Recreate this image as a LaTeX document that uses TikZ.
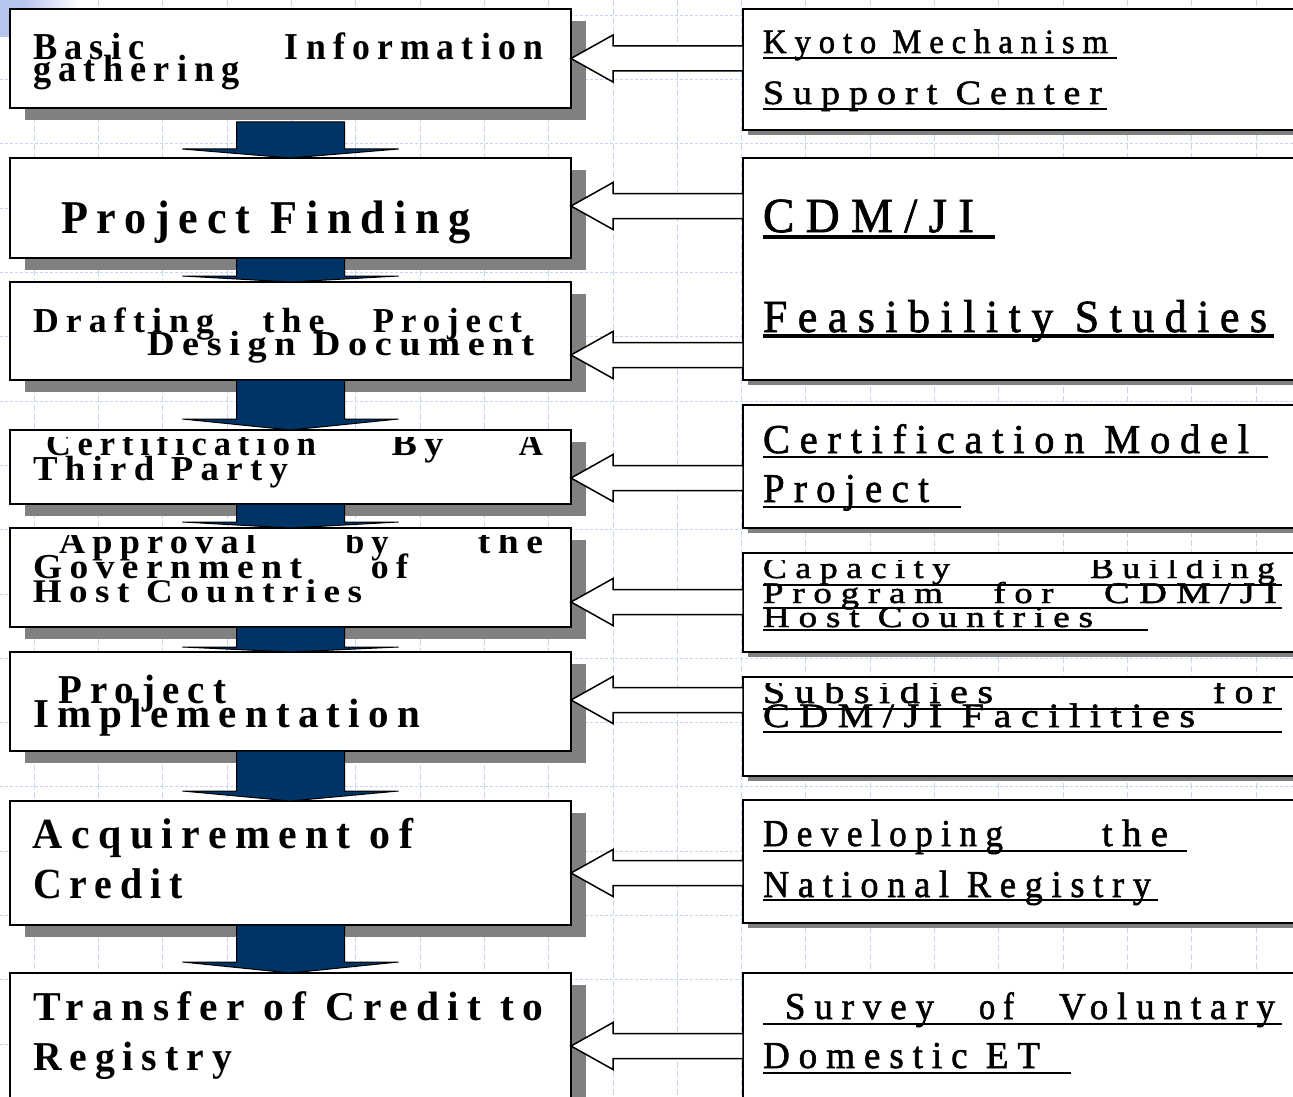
\documentclass[tikz,border=0pt]{standalone}
\usepackage{fontspec}
\usepackage{graphicx}
\usetikzlibrary{calc,shadows}
\newfontfamily\Lfont[LetterSpace=20]{Liberation Serif}
\newfontfamily\Rfont[LetterSpace=24,FakeBold=1.5]{Liberation Serif}
\definecolor{gridc}{RGB}{200,212,240}
\definecolor{navy}{RGB}{0,51,102}
\definecolor{shadowc}{RGB}{128,128,128}
\definecolor{tlblue}{RGB}{184,196,240}
\newcommand\fw[2]{\resizebox{#1pt}{\height}{#2}}
\tikzset{
  txt/.style={anchor=base west,inner sep=0pt,outer sep=0pt},
  lbox/.style={draw=black,line width=1.5pt,fill=white,anchor=north west,inner sep=0pt,outer sep=0pt,
     minimum width=561pt,general shadow={fill=shadowc,shadow xshift=15pt,shadow yshift=-12pt}},
  rbox/.style={draw=black,line width=1.5pt,fill=white,anchor=north west,inner sep=0pt,outer sep=0pt,
     minimum width=560pt,general shadow={fill=shadowc,shadow xshift=5pt,shadow yshift=-5pt}},
  downarr/.style={fill=navy,draw=black,line width=1pt,line join=miter},
  hollow/.style={fill=white,draw=black,line width=1.5pt,line join=miter},
  uline/.style={draw=black,line width=2.8pt},
  gridh/.style={draw=gridc,line width=1pt,dash pattern=on 3pt off 2pt},
  gridv/.style={draw=gridc,line width=1pt,dash pattern=on 6pt off 3pt},
}
\newcommand\LT[5]{\node[txt,font=\Lfont\bfseries\fontsize{#4pt}{#4pt}\selectfont] (#1) at (#2,#3) {#5};}
\newcommand\RT[5]{\node[txt,font=\Rfont\fontsize{#4pt}{#4pt}\selectfont] (#1) at (#2,#3) {#5};}
% down arrow: from node, to node, start offset, head height
\newcommand\darrow[4]{\filldraw[downarr] let \p1=(#1.south), \p2=(#2.north) in
  (\x1-54pt,\y1-#3pt) -- (\x1-54pt,\y2+#4pt) -- (\x1-108pt,\y2+#4pt) -- (\x1,\y2)
  -- (\x1+108pt,\y2+#4pt) -- (\x1+54pt,\y2+#4pt) -- (\x1+54pt,\y1-#3pt) -- cycle;}
% hollow arrow: from right node to left node at height y
\newcommand\harrow[3]{\filldraw[hollow] let \p1=(#2.east), \p2=(#1.west), \p3=(0,#3) in
  (\x1,\y3) -- (\x1+42pt,\y3+23.5pt) -- (\x1+42pt,\y3+12.5pt) -- (\x2,\y3+12.5pt)
  -- (\x2,\y3-12.5pt) -- (\x1+42pt,\y3-12.5pt) -- (\x1+42pt,\y3-23.5pt) -- cycle;}
\begin{document}
\begin{tikzpicture}[x=1pt,y=-1pt]
\useasboundingbox (0,0) rectangle (1293,1097);
\fill[white] (0,0) rectangle (1293,1097);
% grid
\foreach \i in {0,...,19} {\draw[gridv] ({34.3+64.3*\i},0) -- ++(0,1097);}
\foreach \i in {0,...,16} {\draw[gridh] (0,{15.3+64.3*\i}) -- ++(1293,0);}
% top-left tint
\fill[tlblue] (0,0) rectangle (22,37);
\shade[left color=tlblue,right color=white] (22,0) rectangle (80,37);
% left boxes
\node[lbox,minimum height=99pt]  (b1) at (10,9)   {};
\node[lbox,minimum height=100pt] (b2) at (10,158) {};
\node[lbox,minimum height=98pt]  (b3) at (10,282) {};
\node[lbox,minimum height=74pt]  (b4) at (10,430) {};
\node[lbox,minimum height=99pt]  (b5) at (10,528) {};
\node[lbox,minimum height=99pt]  (b6) at (10,652) {};
\node[lbox,minimum height=124pt] (b7) at (10,801) {};
\node[lbox,minimum height=130pt] (b8) at (10,973) {};
% right boxes
\node[rbox,minimum height=121pt] (r1) at (743,9)   {};
\node[rbox,minimum height=222pt] (r2) at (743,158) {};
\node[rbox,minimum height=123pt] (r3) at (743,405) {};
\node[rbox,minimum height=99pt]  (r4) at (743,553) {};
\node[rbox,minimum height=99pt]  (r5) at (743,677) {};
\node[rbox,minimum height=123pt] (r6) at (743,800) {};
\node[rbox,minimum height=130pt] (r7) at (743,973) {};
% down arrows
\darrow{b1}{b2}{14}{9}
\darrow{b2}{b3}{0}{6}
\darrow{b3}{b4}{0}{11}
\darrow{b4}{b5}{0}{6}
\darrow{b5}{b6}{0}{5}
\darrow{b6}{b7}{0}{10}
\darrow{b7}{b8}{0}{11}
% hollow arrows
\harrow{r1}{b1}{58.5}
\harrow{r2}{b2}{206}
\harrow{r2}{b3}{355}
\harrow{r3}{b4}{478}
\harrow{r4}{b5}{602}
\harrow{r5}{b6}{700}
\harrow{r6}{b7}{873}
\harrow{r7}{b8}{1046}
% left texts
\LT{l1a}{33}{60}{38}{\hbox to 510pt{\fw{112}{Basic}\hfill\fw{258}{Information}}}
\LT{l1b}{33}{82}{38}{\fw{207}{gathering}}
\LT{l2}{61}{233}{47}{\fw{410}{Project Finding}}
\LT{l3a}{33}{332}{35}{\hbox to 489pt{\fw{181}{Drafting}\hfill\fw{62}{the}\hfill\fw{149}{Project}}}
\LT{l3b}{147}{355}{35}{\fw{387}{Design Document}}
\begin{scope}
\clip (10,437) rectangle (571,504);
\LT{l4a}{46}{455}{35}{\hbox to 497pt{\fw{270}{Certification}\hfill\fw{52}{By}\hfill\fw{24}{A}}}
\end{scope}
\LT{l4b}{33}{480}{35}{\fw{255}{Third Party}}
\begin{scope}
\clip (10,535) rectangle (571,627);
\LT{l5a}{59}{553}{35}{\hbox to 484pt{\fw{197}{Approval}\hfill\fw{43}{by}\hfill\fw{65}{the}}}
\end{scope}
\LT{l5b}{33}{578}{35}{\hbox to 375pt{\fw{269}{Government}\hfill\fw{37}{of}}}
\LT{l5c}{33}{602}{33}{\fw{329}{Host Countries}}
\LT{l6a}{59}{703}{41}{\fw{167}{Project}}
\LT{l6b}{33}{727}{41}{\fw{387}{Implementation}}
\LT{l7a}{33}{848}{43}{\fw{380}{Acquirement of}}
\LT{l7b}{33}{898}{43}{\fw{150}{Credit}}
\LT{l8a}{33}{1020}{41}{\fw{510}{Transfer of Credit to}}
\LT{l8b}{33}{1070}{41}{\fw{199}{Registry}}
% right texts
\RT{t1a}{763}{53}{34}{\fw{345}{Kyoto Mechanism}}
\RT{t1b}{763}{104}{34}{\fw{339}{Support Center}}
\RT{t2a}{763}{232}{49}{\fw{211}{CDM/JI}}
\RT{t2b}{763}{332}{46}{\fw{504}{Feasibility Studies}}
\RT{t3a}{763}{453}{41}{\fw{486}{Certification Model}}
\RT{t3b}{763}{502}{41}{\fw{166}{Project}}
\begin{scope}
\clip (743,560) rectangle (1293,652);
\RT{t4a}{763}{578}{30}{\hbox to 512pt{\fw{187}{Capacity}\hfill\fw{185}{Building}}}
\end{scope}
\RT{t4b}{763}{603}{30}{\hbox to 514pt{\fw{180}{Program}\hfill\fw{60}{for}\hfill\fw{173}{CDM/JI}}}
\RT{t4c}{763}{627}{30}{\fw{330}{Host Countries}}
\begin{scope}
\clip (743,683) rectangle (1293,776);
\RT{t5a}{763}{703}{34}{\hbox to 512pt{\fw{230}{Subsidies}\hfill\fw{62}{for}}}
\end{scope}
\RT{t5b}{763}{727}{34}{\fw{432}{CDM/JI Facilities}}
\RT{t6a}{763}{846}{38}{\hbox to 405pt{\fw{240}{Developing}\hfill\fw{66}{the}}}
\RT{t6b}{763}{897}{38}{\fw{388}{National Registry}}
\RT{t7a}{785}{1019}{38}{\hbox to 490pt{\fw{149}{Survey}\hfill\fw{35}{of}\hfill\fw{216}{Voluntary}}}
\RT{t7b}{763}{1068}{38}{\fw{277}{Domestic ET}}
% underlines
\draw[uline] (763,58) -- (1117,58);
\draw[uline] (763,109) -- (1107,109);
\draw[uline,line width=3.2pt] (763,237) -- (995,237);
\draw[uline,line width=3.2pt] (763,336) -- (1274,336);
\draw[uline] (763,457) -- (1268,457);
\draw[uline] (763,507) -- (961,507);
\draw[uline] (763,585) -- (1282,585);
\draw[uline] (763,608) -- (1282,608);
\draw[uline] (763,630) -- (1148,630);
\draw[uline] (763,709) -- (1282,709);
\draw[uline] (763,732) -- (1282,732);
\draw[uline] (763,851) -- (1187,851);
\draw[uline] (763,900) -- (1158,900);
\draw[uline] (763,1024) -- (1282,1024);
\draw[uline] (763,1073) -- (1071,1073);
\end{tikzpicture}
\end{document}
